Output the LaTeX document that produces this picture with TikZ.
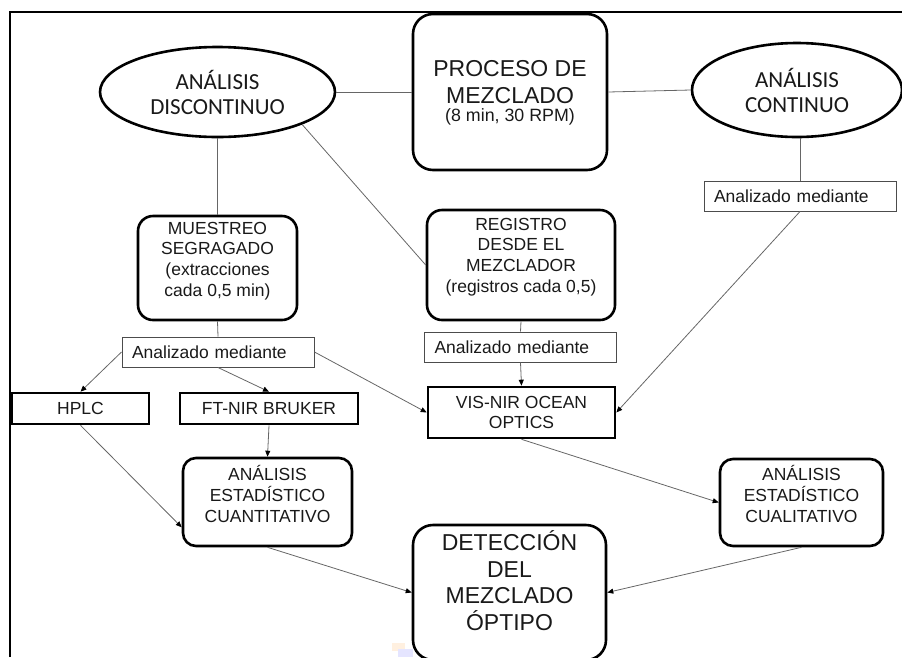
\documentclass[tikz,border=0pt]{standalone}
\usepackage{fontspec}
\setmainfont{Liberation Sans}
\newfontfamily\calibri{Carlito}
\usetikzlibrary{shapes.geometric,arrows.meta}

\begin{document}
\begin{tikzpicture}[x=1pt,y=-1pt,
  every node/.style={text=black!90},
  body/.style={font=\fontsize{17.5}{20.7}\selectfont, align=center, inner sep=0pt},
  big/.style={font=\fontsize{23}{26.5}\selectfont, align=center, inner sep=0pt},
  oval/.style={ellipse, draw, line width=2.6pt, inner sep=0pt, align=center,
    font=\calibri\fontsize{23}{25}\selectfont},
  rbox/.style={draw, line width=2.6pt, rounded corners=#1, inner sep=0pt},
  sbox/.style={draw, line width=2.6pt, inner sep=0pt, align=center,
    font=\fontsize{17.5}{20.5}\selectfont},
  tagbox/.style={draw=black!70, line width=1pt, text width=172pt, inner xsep=10pt,
    inner ysep=0pt, minimum height=30pt, align=left, font=\fontsize{17.5}{20}\selectfont},
  conn/.style={draw=black!60, line width=0.8pt},
  arr/.style={conn, -{Triangle[length=6pt,width=5pt,color=black]}}
]
\useasboundingbox (0,0) rectangle (902,657);

% frame lines
\draw[line width=2.2pt] (10,657) -- (10,12) -- (902,12);

% faint mark at the lower edge
\fill[orange!12] (392,643) rectangle (405,651);
\fill[blue!10] (398,649) rectangle (413,657);

% top row
\node[oval, minimum width=235, minimum height=90] (disc) at (217.5,92) {ANÁLISIS\\DISCONTINUO};
\node[oval, minimum width=210, minimum height=94] (cont) at (797,90) {ANÁLISIS\\CONTINUO};
\node[rbox=20pt, minimum width=194, minimum height=156] (proc) at (510,92) {};
\node[big] (proct) at (510,93) {PROCESO DE\\MEZCLADO\\[-8pt]{\fontsize{17.8}{20}\selectfont(8 min, 30 RPM)}};

% sampling and recording
\node[rbox=15pt, minimum width=159, minimum height=104] (mues) at (217.5,268) {};
\node[body] (muest) at (217.5,261) {MUESTREO\\SEGRAGADO\\(extracciones\\cada 0,5 min)};
\node[rbox=15pt, minimum width=188, minimum height=110] (reg) at (521,265) {};
\node[body] (regt) at (521,257) {REGISTRO\\DESDE EL\\MEZCLADOR\\(registros cada 0,5)};

% "Analizado mediante" tags
\node[tagbox] (anaL) at (218,352) {Analizado mediante};
\node[tagbox] (anaM) at (520.5,347) {Analizado mediante};
\node[tagbox] (anaR) at (800,196) {Analizado mediante};

% instruments
\node[sbox, minimum width=137, minimum height=31] (hplc) at (80.5,408.5) {HPLC};
\node[sbox, minimum width=178, minimum height=31] (ft) at (269,408.5) {FT-NIR BRUKER};
\node[sbox, minimum width=187, minimum height=51] (vis) at (521.5,412.5) {VIS-NIR OCEAN\\OPTICS};

% statistical analysis
\node[rbox=13pt, minimum width=169, minimum height=88] (cuant) at (267.5,502) {};
\node[body] (cuantt) at (267.5,494) {ANÁLISIS\\ESTADÍSTICO\\CUANTITATIVO};
\node[rbox=13pt, minimum width=163, minimum height=87] (cual) at (801.5,502.5) {};
\node[body] (cualt) at (801.5,494) {ANÁLISIS\\ESTADÍSTICO\\CUALITATIVO};

% result
\node[rbox=20pt, minimum width=193, minimum height=135] (det) at (509.5,592.5) {};
\node[big] (dett) at (509.5,580.5) {DETECCIÓN\\DEL\\MEZCLADO\\ÓPTIPO};

% plain links
\draw[conn] (disc.east) -- (proc.west);
\draw[conn] (proc.east) -- (cont.west);
\draw[conn] (disc.south) -- (mues.north);
\draw[conn] (disc.-21) -- (reg.west);
\draw[conn] (anaR.north |- cont.south) -- (anaR.north);
\draw[conn] (mues.south) -- (anaL.north);
\draw[conn] (reg.south) -- (anaM.north);

% arrows
\draw[arr] (anaL.west) -- (hplc.north);
\draw[arr] (anaL.south) -- (ft.north);
\draw[arr] (anaL.east) -- (vis.west);
\draw[arr] (anaM.south) -- (vis.north);
\draw[arr] (anaR.south) -- (vis.east);
\draw[arr] (ft.south) -- (cuant.north);
\draw[arr] (hplc.south) -- ([yshift=20pt]cuant.south west);
\draw[arr] (cuant.south) -- (det.west);
\draw[arr] (vis.south) -- (cual.west);
\draw[arr] (cual.south) -- (det.east);
\end{tikzpicture}
\end{document}
